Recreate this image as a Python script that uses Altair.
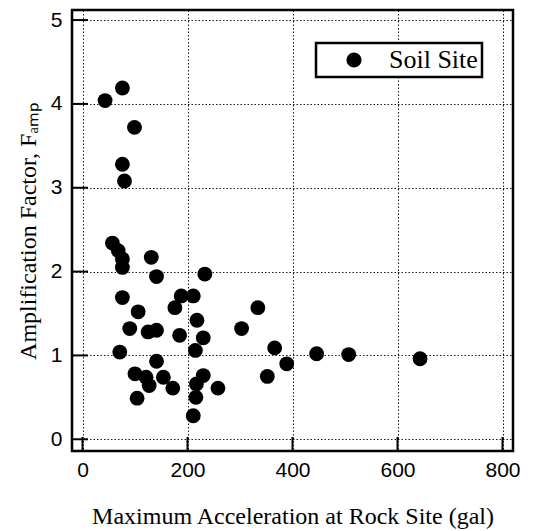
import altair as alt
import pandas as pd

# Data
accel = [43, 76, 99, 76, 80, 57, 68, 76, 76, 131,
         141, 233, 76, 106, 90, 125, 141, 176, 188, 211,
         218, 185, 230, 215, 71, 141, 100, 121, 154, 127,
         172, 104, 230, 217, 258, 216, 211, 303, 334, 366,
         389, 352, 446, 507, 643]
amp = [4.04, 4.19, 3.72, 3.28, 3.08, 2.34, 2.25, 2.15, 2.05, 2.17,
       1.94, 1.97, 1.69, 1.52, 1.32, 1.28, 1.30, 1.57, 1.71, 1.71,
       1.42, 1.24, 1.21, 1.06, 1.04, 0.93, 0.78, 0.74, 0.74, 0.64,
       0.61, 0.49, 0.76, 0.66, 0.61, 0.50, 0.28, 1.32, 1.57, 1.09,
       0.90, 0.75, 1.02, 1.01, 0.96]
series = ["Soil Site"] * len(accel)

x_ticks = [0, 200, 400, 600, 800]
y_ticks = [0, 1, 2, 3, 4, 5]

W, H = 441, 441

df = pd.DataFrame({"accel": accel, "amp": amp, "series": series})

xscale = alt.Scale(domain=[-20, 820], nice=False, zero=False)
yscale = alt.Scale(domain=[-0.14, 5.12], nice=False, zero=False)

x_axis = alt.Axis(values=x_ticks, title="Maximum Acceleration at Rock Site (gal)",
                  labelPadding=8, titlePadding=24)
y_axis = alt.Axis(values=y_ticks, title="Amplification Factor, Fₐₘₚ",
                  labelPadding=10, titlePadding=10)

points = alt.Chart(df).mark_circle(size=220, opacity=1).encode(
    x=alt.X("accel:Q", scale=xscale, axis=x_axis),
    y=alt.Y("amp:Q", scale=yscale, axis=y_axis),
    color=alt.Color("series:N", scale=alt.Scale(range=["black"]),
                    legend=alt.Legend(title=None, orient="none", legendX=244, legendY=33,
                                      fillColor="white", strokeColor="black",
                                      padding=4, symbolOffset=21, labelOffset=22,
                                      symbolSize=230, symbolType="circle",
                                      labelFont="Liberation Serif", labelFontSize=26,
                                      labelColor="black")),
)

xt = alt.Chart(pd.DataFrame({"accel": x_ticks})).mark_rule(color="black", strokeWidth=2).encode(
    x=alt.X("accel:Q", scale=xscale, axis=x_axis),
    y=alt.value(H),
    y2=alt.value(H - 14),
)
yt = alt.Chart(pd.DataFrame({"amp": y_ticks})).mark_rule(color="black", strokeWidth=2).encode(
    y=alt.Y("amp:Q", scale=yscale, axis=y_axis),
    x=alt.value(0),
    x2=alt.value(16),
)

chart = alt.layer(points, xt, yt).properties(
    width=W, height=H,
    autosize=alt.AutoSizeParams(type="none"),
    padding={"left": 64, "top": 2, "right": 24, "bottom": 80},
).configure_view(
    stroke="black", strokeWidth=2.5
).configure_axis(
    domain=False, ticks=False, grid=True,
    gridColor="black", gridDash=[1.5, 2], gridWidth=1, gridOpacity=0.9,
    labelFont="Liberation Sans", labelFontSize=21, labelColor="black",
    titleFont="Liberation Serif", titleFontSize=24, titleFontWeight="normal",
    titleColor="black",
).configure_legend(
    strokeWidth=2.5,
)

chart.save("out.html", embed_options={"renderer": "svg", "actions": False})
